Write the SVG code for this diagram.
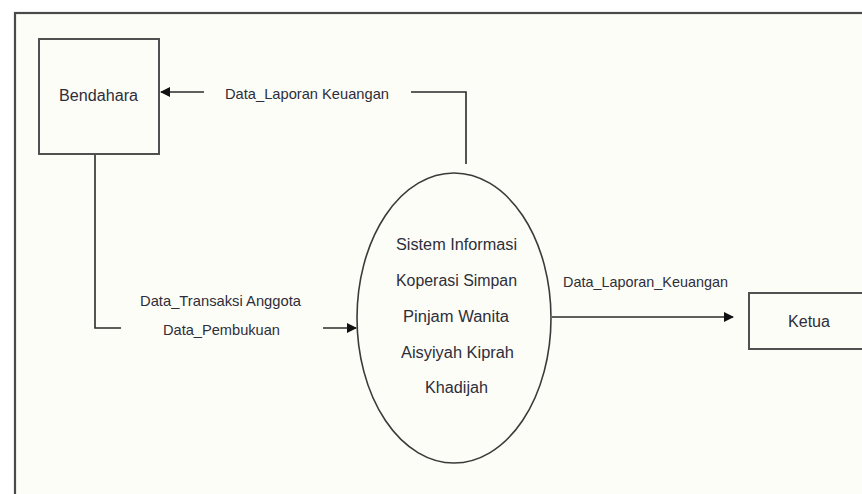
<svg xmlns="http://www.w3.org/2000/svg" width="862" height="494" viewBox="0 0 862 494">
<style>
.t{font-family:"Liberation Sans","DejaVu Sans",sans-serif;font-size:16px;fill:#2e2e3a}
.l{font-size:15px}
.box{fill:#fdfdf7;stroke:#505050;stroke-width:2}
.ln{fill:none;stroke:#2a2a2a;stroke-width:1.6}
</style>
<defs>
<marker id="ah" viewBox="0 0 10 10" refX="9" refY="5" markerWidth="10" markerHeight="10" markerUnits="userSpaceOnUse" orient="auto">
<path d="M0,0 L10,5 L0,10 z" fill="#111"/>
</marker>
</defs>
<rect x="0" y="0" width="862" height="494" fill="#ffffff"/>
<g id="frame">
<rect x="15" y="13" width="860" height="500" fill="#fdfdf7" stroke="#4a4a4a" stroke-width="2.2"/>
</g>
<g id="connectors">
<path class="ln" d="M204,92 L161,92" marker-end="url(#ah)"/>
<path class="ln" d="M411,92 L466,92 L466,164"/>
<path class="ln" d="M95,155 L95,328 L121,328"/>
<path class="ln" d="M323,328 L356,328" marker-end="url(#ah)"/>
<path class="ln" d="M552,317 L733,317" marker-end="url(#ah)"/>
<text class="t l" x="307" y="99" text-anchor="middle" textLength="164" lengthAdjust="spacingAndGlyphs">Data_Laporan Keuangan</text>
<text class="t l" x="220.5" y="306" text-anchor="middle" textLength="161" lengthAdjust="spacingAndGlyphs">Data_Transaksi Anggota</text>
<text class="t l" x="221.5" y="335" text-anchor="middle" textLength="117" lengthAdjust="spacingAndGlyphs">Data_Pembukuan</text>
<text class="t l" x="645.5" y="287" text-anchor="middle" textLength="165" lengthAdjust="spacingAndGlyphs">Data_Laporan_Keuangan</text>
</g>
<g id="bendahara">
<rect class="box" x="39" y="39" width="120" height="115"/>
<text class="t" x="98.5" y="101" text-anchor="middle" textLength="79" lengthAdjust="spacingAndGlyphs">Bendahara</text>
</g>
<g id="sistem">
<ellipse cx="454" cy="318" rx="97" ry="145" fill="#fdfdf7" stroke="#3a3a3a" stroke-width="1.6"/>
<text class="t" x="456.5" y="250" text-anchor="middle" textLength="121" lengthAdjust="spacingAndGlyphs">Sistem Informasi</text>
<text class="t" x="456.5" y="286" text-anchor="middle" textLength="121" lengthAdjust="spacingAndGlyphs">Koperasi Simpan</text>
<text class="t" x="456" y="322" text-anchor="middle" textLength="106" lengthAdjust="spacingAndGlyphs">Pinjam Wanita</text>
<text class="t" x="457.5" y="358" text-anchor="middle" textLength="113" lengthAdjust="spacingAndGlyphs">Aisyiyah Kiprah</text>
<text class="t" x="456.5" y="393" text-anchor="middle" textLength="63" lengthAdjust="spacingAndGlyphs">Khadijah</text>
</g>
<g id="ketua">
<rect class="box" x="749" y="293" width="130" height="56"/>
<text class="t" x="809" y="327" text-anchor="middle" textLength="42" lengthAdjust="spacingAndGlyphs">Ketua</text>
</g>
</svg>
